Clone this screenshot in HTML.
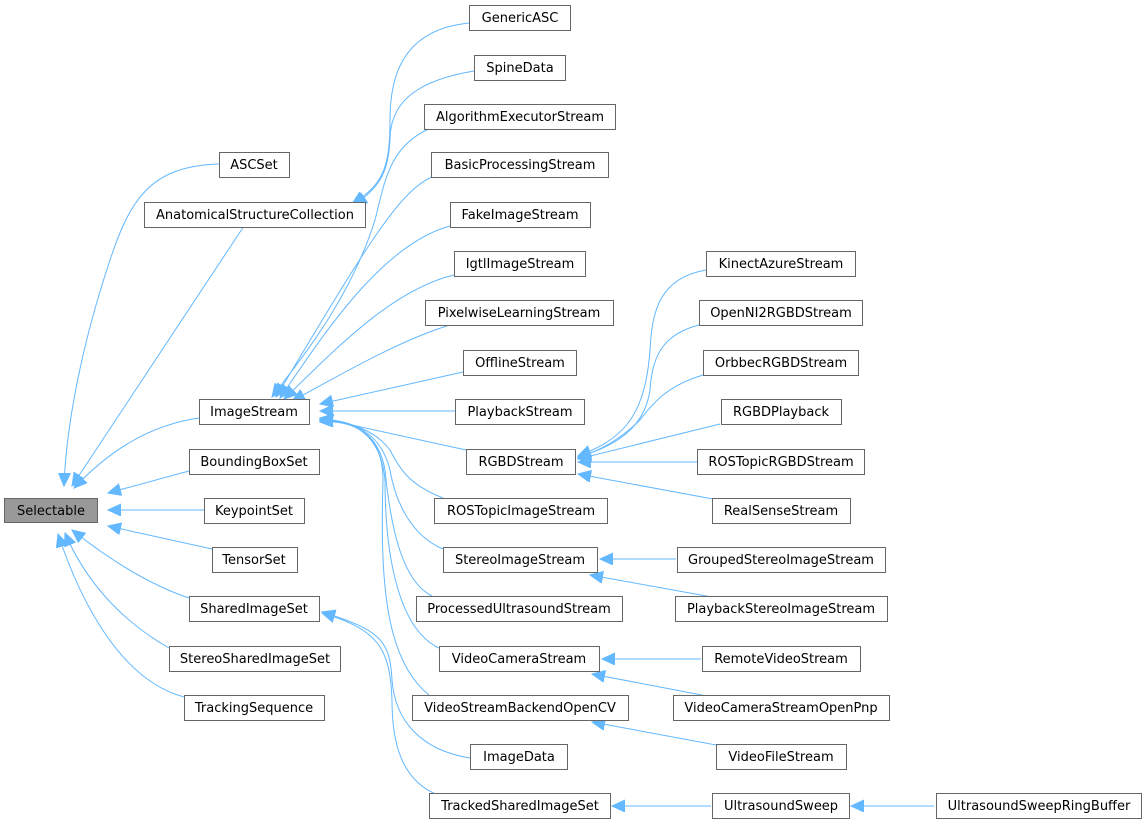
<!DOCTYPE html>
<html><head><meta charset="utf-8"><style>
html,body{margin:0;padding:0;background:#fff;}
svg{display:block;}
text{font-family:"DejaVu Sans","Liberation Sans",sans-serif;font-size:13px;fill:#000;}
rect{fill:#fff;stroke:#666;stroke-width:1;}
path{fill:none;stroke:#63b8ff;stroke-width:1;}
</style></head><body>
<svg width="1145" height="825" viewBox="0 0 1145 825" xmlns="http://www.w3.org/2000/svg">
<defs>
<marker id="a" markerUnits="userSpaceOnUse" markerWidth="16" markerHeight="14" refX="13" refY="6" orient="auto">
<path d="M0,0 L13,6 L0,12 Z" style="fill:#63b8ff;stroke:#63b8ff"/>
</marker>
</defs>
<g marker-end="url(#a)">
<path d="M219,164 C150,166 130,200 110,260 C80,350 66,430 64,486"/>
<path d="M244,226 L72,486"/>
<path d="M199,418 C150,425 110,450 74,488"/>
<path d="M189,471 L108,493"/>
<path d="M204,510 L108,510"/>
<path d="M212,549 L108,526"/>
<path d="M189,598 C150,585 110,560 72,530"/>
<path d="M169,648 C120,620 85,580 65,533"/>
<path d="M184,697 C120,680 80,600 58,534"/>
<path d="M469,23 C400,30 390,80 390,120 C390,170 382,185 352,204"/>
<path d="M474,71 C420,80 390,100 390,140 C388,170 382,186 354,205"/>
<path d="M431,128 C390,145 385,180 375,220 C350,300 300,360 272,397"/>
<path d="M434,176 C400,190 370,240 276,397"/>
<path d="M450,226 C380,245 320,340 280,398"/>
<path d="M454,275 C390,290 330,355 284,399"/>
<path d="M450,325 C400,340 340,375 292,401"/>
<path d="M463,372 L320,404"/>
<path d="M455,411 L320,411"/>
<path d="M466,450 L320,418"/>
<path d="M443,498 C410,485 400,470 390,450 C375,430 350,422 320,418"/>
<path d="M443,549 C410,535 395,500 390,470 C380,430 350,420 320,419"/>
<path d="M432,596 C400,580 390,520 385,470 C378,430 350,420 320,420"/>
<path d="M439,648 C400,630 385,560 385,480 C380,430 350,420 320,421"/>
<path d="M429,695 C385,660 380,580 383,480 C383,430 350,420 320,422"/>
<path d="M470,758 C420,750 395,720 392,680 C390,640 380,630 322,612"/>
<path d="M438,795 C400,780 392,740 392,700 C390,650 380,630 322,613"/>
<path d="M706,270 C660,278 652,310 650,350 C645,420 620,440 578,456"/>
<path d="M699,325 C660,335 652,360 650,390 C645,425 620,445 578,457"/>
<path d="M703,375 C670,385 655,400 640,420 C620,440 600,450 578,458"/>
<path d="M720,424 L578,459"/>
<path d="M697,462 L578,462"/>
<path d="M713,499 L578,474"/>
<path d="M676,559 L600,559"/>
<path d="M712,597 L590,575"/>
<path d="M701,659 L602,659"/>
<path d="M712,697 L592,674"/>
<path d="M716,745 L592,722"/>
<path d="M711,806 L612,806"/>
<path d="M934,806 L851,806"/>
</g>
<g>
<rect x="4.5" y="498.5" width="93" height="24" style="fill:#999"/><text x="51" y="515" text-anchor="middle">Selectable</text>
<rect x="219.5" y="152.5" width="70" height="25"/><text x="254" y="169" text-anchor="middle">ASCSet</text>
<rect x="144.5" y="202.5" width="221" height="25"/><text x="255" y="219" text-anchor="middle">AnatomicalStructureCollection</text>
<rect x="199.5" y="399.5" width="110" height="25"/><text x="254" y="416" text-anchor="middle">ImageStream</text>
<rect x="189.5" y="449.5" width="130" height="25"/><text x="254" y="466" text-anchor="middle">BoundingBoxSet</text>
<rect x="204.5" y="498.5" width="100" height="25"/><text x="254" y="515" text-anchor="middle">KeypointSet</text>
<rect x="212.5" y="547.5" width="85" height="25"/><text x="254" y="564" text-anchor="middle">TensorSet</text>
<rect x="189.5" y="596.5" width="130" height="25"/><text x="254" y="613" text-anchor="middle">SharedImageSet</text>
<rect x="169.5" y="646.5" width="171" height="25"/><text x="255" y="663" text-anchor="middle">StereoSharedImageSet</text>
<rect x="184.5" y="695.5" width="140" height="25"/><text x="254" y="712" text-anchor="middle">TrackingSequence</text>

<rect x="469.5" y="5.5" width="101" height="25"/><text x="520" y="22" text-anchor="middle">GenericASC</text>
<rect x="474.5" y="55.5" width="91" height="25"/><text x="520" y="72" text-anchor="middle">SpineData</text>
<rect x="424.5" y="104.5" width="191" height="25"/><text x="520" y="121" text-anchor="middle">AlgorithmExecutorStream</text>
<rect x="431.5" y="152.5" width="177" height="25"/><text x="520" y="169" text-anchor="middle">BasicProcessingStream</text>
<rect x="450.5" y="202.5" width="140" height="25"/><text x="520" y="219" text-anchor="middle">FakeImageStream</text>
<rect x="454.5" y="251.5" width="131" height="25"/><text x="520" y="268" text-anchor="middle">IgtlImageStream</text>
<rect x="425.5" y="300.5" width="188" height="25"/><text x="519" y="317" text-anchor="middle">PixelwiseLearningStream</text>
<rect x="463.5" y="350.5" width="113" height="25"/><text x="520" y="367" text-anchor="middle">OfflineStream</text>
<rect x="455.5" y="399.5" width="129" height="25"/><text x="520" y="416" text-anchor="middle">PlaybackStream</text>
<rect x="466.5" y="449.5" width="109" height="25"/><text x="521" y="466" text-anchor="middle">RGBDStream</text>
<rect x="434.5" y="498.5" width="173" height="25"/><text x="521" y="515" text-anchor="middle">ROSTopicImageStream</text>
<rect x="443.5" y="547.5" width="154" height="25"/><text x="520" y="564" text-anchor="middle">StereoImageStream</text>
<rect x="416.5" y="596.5" width="206" height="25"/><text x="519" y="613" text-anchor="middle">ProcessedUltrasoundStream</text>
<rect x="439.5" y="646.5" width="160" height="25"/><text x="519" y="663" text-anchor="middle">VideoCameraStream</text>
<rect x="412.5" y="695.5" width="216" height="25"/><text x="520" y="712" text-anchor="middle">VideoStreamBackendOpenCV</text>
<rect x="470.5" y="744.5" width="97" height="25"/><text x="519" y="761" text-anchor="middle">ImageData</text>
<rect x="429.5" y="793.5" width="181" height="25"/><text x="520" y="810" text-anchor="middle">TrackedSharedImageSet</text>

<rect x="706.5" y="251.5" width="149" height="25"/><text x="781" y="268" text-anchor="middle">KinectAzureStream</text>
<rect x="699.5" y="300.5" width="163" height="25"/><text x="781" y="317" text-anchor="middle">OpenNI2RGBDStream</text>
<rect x="703.5" y="350.5" width="155" height="25"/><text x="781" y="367" text-anchor="middle">OrbbecRGBDStream</text>
<rect x="721.5" y="399.5" width="120" height="25"/><text x="781" y="416" text-anchor="middle">RGBDPlayback</text>
<rect x="697.5" y="449.5" width="167" height="25"/><text x="781" y="466" text-anchor="middle">ROSTopicRGBDStream</text>
<rect x="712.5" y="498.5" width="138" height="25"/><text x="781" y="515" text-anchor="middle">RealSenseStream</text>
<rect x="677.5" y="547.5" width="208" height="25"/><text x="781" y="564" text-anchor="middle">GroupedStereoImageStream</text>
<rect x="675.5" y="596.5" width="212" height="25"/><text x="781" y="613" text-anchor="middle">PlaybackStereoImageStream</text>
<rect x="702.5" y="646.5" width="158" height="25"/><text x="781" y="663" text-anchor="middle">RemoteVideoStream</text>
<rect x="673.5" y="695.5" width="216" height="25"/><text x="781" y="712" text-anchor="middle">VideoCameraStreamOpenPnp</text>
<rect x="716.5" y="744.5" width="130" height="25"/><text x="781" y="761" text-anchor="middle">VideoFileStream</text>
<rect x="712.5" y="793.5" width="137" height="25"/><text x="781" y="810" text-anchor="middle">UltrasoundSweep</text>
<rect x="936.5" y="793.5" width="205" height="25"/><text x="1039" y="810" text-anchor="middle">UltrasoundSweepRingBuffer</text>
</g>
</svg>
</body></html>
